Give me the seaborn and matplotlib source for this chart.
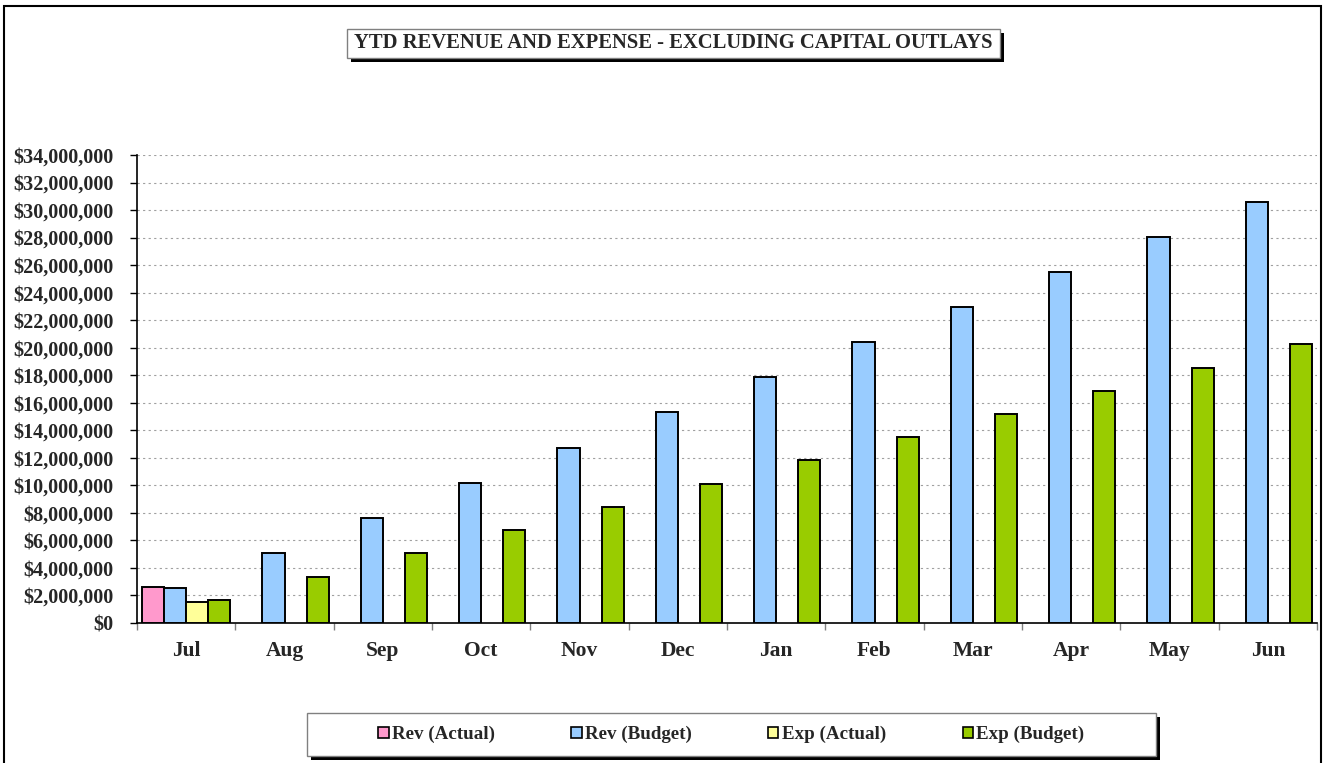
import numpy as np
import pandas as pd
import seaborn as sns
import matplotlib.pyplot as plt
from matplotlib.patches import Rectangle, Patch
from matplotlib.ticker import FuncFormatter, FixedLocator

months = ['Jul', 'Aug', 'Sep', 'Oct', 'Nov', 'Dec', 'Jan', 'Feb', 'Mar', 'Apr', 'May', 'Jun']
series = ['Rev (Actual)', 'Rev (Budget)', 'Exp (Actual)', 'Exp (Budget)']
nan = np.nan
rev_actual = [2600000, nan, nan, nan, nan, nan, nan, nan, nan, nan, nan, nan]
rev_budget = [2540000, 5100000, 7650000, 10200000, 12750000, 15300000,
              17850000, 20400000, 22950000, 25500000, 28050000, 30600000]
exp_actual = [1560000, nan, nan, nan, nan, nan, nan, nan, nan, nan, nan, nan]
exp_budget = [1680000, 3370000, 5060000, 6750000, 8440000, 10120000,
              11810000, 13500000, 15190000, 16870000, 18560000, 20250000]
colors = ['#FF99CC', '#99CCFF', '#FFFF99', '#99CC00']

rows = []
for name, vals in zip(series, [rev_actual, rev_budget, exp_actual, exp_budget]):
    for m, v in zip(months, vals):
        rows.append({'Month': m, 'Series': name, 'Value': v})
df = pd.DataFrame(rows).dropna()

sns.set_style('white')
plt.rcParams['font.family'] = ['Liberation Serif', 'DejaVu Serif']
plt.rcParams['font.weight'] = 'bold'

W, H = 1323, 763
fig = plt.figure(figsize=(W / 100, H / 100), dpi=100)
ax = fig.add_axes([137 / W, 140 / H, 1180 / W, 468 / H])

sns.barplot(data=df, x='Month', y='Value', hue='Series', order=months, hue_order=series,
            palette=colors, saturation=1, width=0.9, errorbar=None, edgecolor='black',
            linewidth=1.4, legend=False, ax=ax, zorder=3)

ax.set_xlim(-0.5, 11.5)
ax.set_ylim(0, 34000000)
ax.set_yticks(np.arange(0, 34000001, 2000000))
ax.yaxis.set_major_formatter(FuncFormatter(lambda v, p: '${:,.0f}'.format(v)))
ax.set_xlabel('')
ax.set_ylabel('')
for y in np.arange(2000000, 34000001, 2000000):
    ax.axhline(y, color='#A0A0A0', lw=0.8, ls=(0, (2, 3)), zorder=1)

for s in ['top', 'right']:
    ax.spines[s].set_visible(False)
for s in ['left', 'bottom']:
    ax.spines[s].set_color('black')
    ax.spines[s].set_linewidth(1.2)

ax.tick_params(axis='y', which='major', length=5, width=1, direction='out', color='black',
               left=True, pad=12, labelsize=14.5)
ax.tick_params(axis='x', which='major', length=0, pad=13, labelsize=15.5)
ax.xaxis.set_minor_locator(FixedLocator(np.arange(-0.5, 12, 1)))
ax.tick_params(axis='x', which='minor', length=5, width=1, direction='out', color='#808080',
               bottom=True)
for lbl in ax.get_xticklabels() + ax.get_yticklabels():
    lbl.set_fontweight('bold')

# outer border
fig.patches.append(Rectangle((4 / W, -0.02), 1317 / W, 1 - 6 / H + 0.02, transform=fig.transFigure,
                             fill=False, edgecolor='black', lw=1.5, zorder=0))

# title box with shadow
tx0, tx1, ty0, ty1 = 347, 1000, 29, 58
fig.patches.append(Rectangle(((tx0 + 4) / W, 1 - (ty1 + 4) / H), (tx1 - tx0) / W, (ty1 - ty0) / H,
                             transform=fig.transFigure, facecolor='black', edgecolor='none', zorder=1))
fig.patches.append(Rectangle((tx0 / W, 1 - ty1 / H), (tx1 - tx0) / W, (ty1 - ty0) / H,
                             transform=fig.transFigure, facecolor='white', edgecolor='#808080',
                             lw=1, zorder=2))
fig.text((tx0 + tx1) / 2 / W, 1 - (ty0 + ty1) / 2 / H,
         'YTD REVENUE AND EXPENSE - EXCLUDING CAPITAL OUTLAYS',
         ha='center', va='center', fontsize=14.9, fontweight='bold', zorder=3)

# legend box with shadow
lx0, lx1, ly0, ly1 = 307, 1156, 713, 756
fig.patches.append(Rectangle(((lx0 + 4) / W, 1 - (ly1 + 4) / H), (lx1 - lx0) / W, (ly1 - ly0) / H,
                             transform=fig.transFigure, facecolor='black', edgecolor='none', zorder=1))
fig.patches.append(Rectangle((lx0 / W, 1 - ly1 / H), (lx1 - lx0) / W, (ly1 - ly0) / H,
                             transform=fig.transFigure, facecolor='white', edgecolor='#808080',
                             lw=1, zorder=2))
handles = [Patch(facecolor=c, edgecolor='black', lw=1.2) for c in colors]
leg = fig.legend(handles, series, loc='center', ncol=4,
                 bbox_to_anchor=((lx0 + lx1) / 2 / W, 1 - (ly0 + ly1) / 2 / H),
                 frameon=False, handlelength=0.53, handleheight=0.53,
                 handletextpad=0.2, columnspacing=4.0,
                 prop={'family': ['Liberation Serif'], 'weight': 'bold', 'size': 13.7})
leg.set_zorder(5)

fig.savefig('out.png', dpi=100)
